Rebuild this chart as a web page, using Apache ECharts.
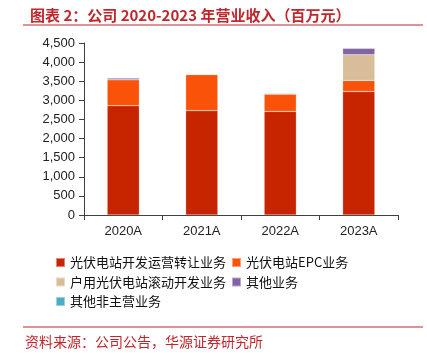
<!DOCTYPE html>
<html>
<head>
<meta charset="utf-8">
<script src="https://cdn.jsdelivr.net/npm/echarts@6/dist/echarts.min.js"></script>
<style>
  html, body { margin: 0; padding: 0; background: #fff; }
  #chart { width: 427px; height: 353px; }
</style>
</head>
<body>
<div id="chart"></div>
<script>
const years = ['2020A', '2021A', '2022A', '2023A']
const seriesNames = ['光伏电站开发运营转让业务', '光伏电站EPC业务', '户用光伏电站滚动开发业务', '其他业务', '其他非主营业务']
const stationOps = [2860, 2730, 2710, 3230]
const epc = [680, 945, 455, 290]
const household = [0, 0, 0, 675]
const other = [45, 5, 15, 165]
const nonCore = [8, 15, 20, 18]
const yTicks = [0, 4500, 500]

const colors = ['#C62500', '#FA5309', '#D8BD98', '#8064A2', '#4BACC6']
const values = [stationOps, epc, household, other, nonCore]

const chart = echarts.init(document.getElementById('chart'))

const labelFont = 'Arial, "Liberation Sans", sans-serif'
const cjkFont = '"Noto Sans CJK SC", sans-serif'

const legendText = { fontSize: 13, color: '#111', fontFamily: cjkFont }

const option = {
  animation: false,
  color: colors,
  title: {
    text: '图表 2：公司 2020-2023 年营业收入（百万元）',
    left: 25,
    top: 3,
    textStyle: { color: '#C0262C', fontSize: 15, fontWeight: 'bold', fontFamily: cjkFont }
  },
  graphic: [
    { type: 'line', shape: { x1: 23, y1: 25, x2: 423, y2: 25 }, style: { stroke: '#C0262C', lineWidth: 1 } },
    { type: 'line', shape: { x1: 23, y1: 327, x2: 423, y2: 327 }, style: { stroke: '#C0262C', lineWidth: 1 } },
    {
      type: 'text', left: 25, top: 335,
      style: { text: '资料来源：公司公告，华源证券研究所', fill: '#C0262C', font: '14px "Noto Sans CJK SC", sans-serif' }
    }
  ],
  legend: [
    {
      orient: 'vertical', left: 50, top: 251, itemGap: 6.5,
      itemWidth: 9, itemHeight: 9, icon: 'rect',
      data: [seriesNames[0], seriesNames[2], seriesNames[4]],
      textStyle: legendText
    },
    {
      orient: 'vertical', left: 226, top: 251, itemGap: 6.5,
      itemWidth: 9, itemHeight: 9, icon: 'rect',
      data: [seriesNames[1], seriesNames[3]],
      textStyle: legendText
    }
  ],
  grid: { left: 84, right: 29, top: 43, bottom: 138 },
  xAxis: {
    type: 'category',
    data: years,
    axisLine: { lineStyle: { color: '#404040', width: 1 } },
    axisTick: { show: true, length: 5, lineStyle: { color: '#404040' } },
    axisLabel: { color: '#222', fontSize: 13, fontFamily: labelFont, margin: 10 }
  },
  yAxis: {
    type: 'value',
    min: yTicks[0],
    max: yTicks[1],
    interval: yTicks[2],
    axisLine: { show: true, lineStyle: { color: '#404040', width: 1 } },
    axisTick: { show: true, length: 5, lineStyle: { color: '#404040' } },
    splitLine: { show: false },
    axisLabel: {
      color: '#222', fontSize: 13, fontFamily: labelFont, margin: 9,
      formatter: v => v.toLocaleString('en-US')
    }
  },
  series: seriesNames.map((name, i) => ({
    name,
    type: 'bar',
    stack: 'total',
    barWidth: '41%',
    itemStyle: { color: colors[i], borderColor: 'rgba(255,255,255,0.45)', borderWidth: 0.5 },
    data: values[i]
  }))
}

chart.setOption(option)
</script>
</body>
</html>
